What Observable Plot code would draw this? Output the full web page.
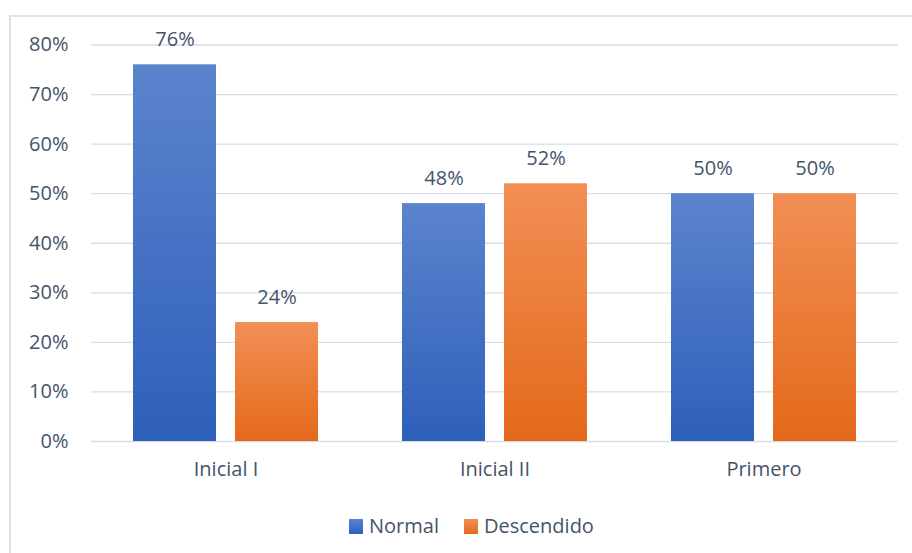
<!DOCTYPE html>
<html>
<head>
<meta charset="utf-8">
<script src="https://cdn.jsdelivr.net/npm/d3@7"></script>
<script src="https://cdn.jsdelivr.net/npm/@observablehq/plot@0.6"></script>
<style>
  html, body { margin: 0; padding: 0; background: #fff; }
  #wrap { position: relative; width: 912px; height: 553px; overflow: hidden; font-family: "Open Sans", sans-serif; }
  #frame { position: absolute; left: 9px; top: 15px; width: 1000px; height: 1000px; border: 2px solid #dfe2e7; box-sizing: border-box; }
  #chart { position: absolute; left: 0; top: 0; }
  .legend { position: absolute; top: 514px; font-size: 20px; color: #44546a; line-height: 24px; display: flex; align-items: center; }
  .sw { width: 14px; height: 15px; margin-right: 6px; }
</style>
</head>
<body>
<div id="wrap">
  <div id="frame"></div>
  <div id="chart"></div>
  <div class="legend" style="left:349px"><div class="sw" style="background:linear-gradient(#5b84cd,#2e5fba)"></div>Normal</div>
  <div class="legend" style="left:464px"><div class="sw" style="background:linear-gradient(#f28f55,#e3691a)"></div>Descendido</div>
</div>
<script>
// Categories, series and values
const categories = ["Inicial I", "Inicial II", "Primero"];
const series = ["Normal", "Descendido"];
const normalValues = [76, 48, 50];
const descendidoValues = [24, 52, 50];
const yTicks = [0, 10, 20, 30, 40, 50, 60, 70, 80];

const rows = categories.flatMap((c, i) => [
  {category: c, series: "Normal", value: normalValues[i]},
  {category: c, series: "Descendido", value: descendidoValues[i]}
]);

const textColor = "#44546a";

const svg = Plot.plot({
  width: 912,
  height: 553,
  marginLeft: 90,
  marginRight: 14,
  marginTop: 44.5,
  marginBottom: 112,
  style: {color: textColor, fontFamily: "'Open Sans', sans-serif", fontSize: "20px", background: "transparent"},
  fx: {domain: categories, padding: 0, label: null},
  x: {domain: series, paddingInner: 0.1845, paddingOuter: 0.4, axis: null},
  y: {domain: [0, 80], label: null},
  color: {domain: series, range: ["url(#gradNormal)", "url(#gradDescendido)"]},
  marks: [
    // horizontal gridlines, repeated in each category panel so they run edge to edge
    Plot.ruleY(yTicks, {y: d => d, stroke: "#d9dde3", strokeWidth: 1.3}),
    Plot.barY(rows, {fx: "category", x: "series", y: "value", fill: "series"}),
    Plot.text(rows, {fx: "category", x: "series", y: "value", text: d => d.value + "%", dy: -25, fill: textColor, fontSize: 20, lineAnchor: "middle"}),
    Plot.axisY({ticks: yTicks, tickFormat: d => d + "%", tickSize: 0, tickPadding: 23, fontSize: 20, fill: textColor, label: null}),
    Plot.axisFx({anchor: "bottom", tickSize: 0, tickPadding: 20, fontSize: 20, fill: textColor, label: null})
  ]
});

// Vertical gradients applied per bar
const defs = d3.select(svg).insert("defs", ":first-child");
[["gradNormal", "#5b84cd", "#2e5fba"], ["gradDescendido", "#f28f55", "#e3691a"]].forEach(([id, top, bottom]) => {
  const g = defs.append("linearGradient").attr("id", id).attr("x1", 0).attr("y1", 0).attr("x2", 0).attr("y2", 1);
  g.append("stop").attr("offset", "0%").attr("stop-color", top);
  g.append("stop").attr("offset", "100%").attr("stop-color", bottom);
});

document.getElementById("chart").appendChild(svg);
</script>
</body>
</html>
